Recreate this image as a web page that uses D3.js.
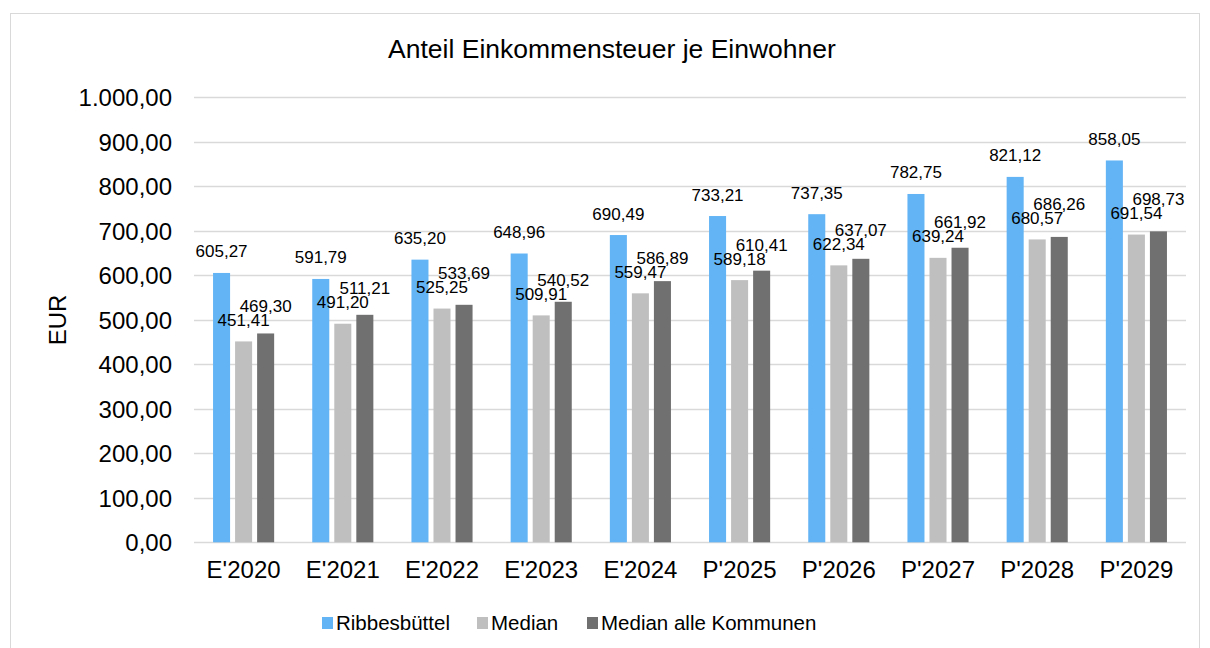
<!DOCTYPE html>
<html>
<head>
<meta charset="utf-8">
<script src="https://cdn.jsdelivr.net/npm/d3@7"></script>
<style>
  body { margin: 0; background: #fff; }
  text { font-family: "Liberation Sans", Arial, sans-serif; fill: #000; }
</style>
</head>
<body>
<div id="chart"></div>
<script>
// ---- data ----
const categories = ["E'2020", "E'2021", "E'2022", "E'2023", "E'2024", "P'2025", "P'2026", "P'2027", "P'2028", "P'2029"];
const seriesNames = ["Ribbesbüttel", "Median", "Median alle Kommunen"];
const ribbesbuettel = [605.27, 591.79, 635.20, 648.96, 690.49, 733.21, 737.35, 782.75, 821.12, 858.05];
const median = [451.41, 491.20, 525.25, 509.91, 559.47, 589.18, 622.34, 639.24, 680.57, 691.54];
const medianAlle = [469.30, 511.21, 533.69, 540.52, 586.89, 610.41, 637.07, 661.92, 686.26, 698.73];
const yTicks = [0, 100, 200, 300, 400, 500, 600, 700, 800, 900, 1000];

const seriesValues = [ribbesbuettel, median, medianAlle];
const colors = ["#63b4f5", "#bfbfbf", "#707070"];

const width = 1210, height = 648;
const plot = { left: 194, right: 1186, top: 97.3, bottom: 542.3 };

// german number format 1.000,00
const de = d3.formatLocale({ decimal: ",", thousands: ".", grouping: [3], currency: ["", " €"] });
const fmt = de.format(",.2f");

const svg = d3.select("#chart").append("svg")
  .attr("width", width)
  .attr("height", height);

// outer chart border
svg.append("rect")
  .attr("x", 10.5).attr("y", 13.5)
  .attr("width", 1189).attr("height", 660)
  .attr("fill", "none")
  .attr("stroke", "#d9d9d9")
  .attr("stroke-width", 1);

// title
svg.append("text")
  .attr("x", 612).attr("y", 58)
  .attr("text-anchor", "middle")
  .style("font-size", "26.5px")
  .text("Anteil Einkommensteuer je Einwohner");

// scales
const y = d3.scaleLinear().domain([0, 1000]).range([plot.bottom, plot.top]);
const x0 = d3.scaleBand().domain(categories).range([plot.left, plot.right]).padding(0);
const gw = x0.bandwidth();
const x1 = d3.scaleBand().domain(seriesNames)
  .range([gw * 0.192, gw * 0.808])
  .paddingInner(0.227).paddingOuter(0);

// gridlines
svg.append("g")
  .selectAll("line")
  .data(yTicks)
  .join("line")
  .attr("x1", plot.left).attr("x2", plot.right)
  .attr("y1", d => Math.round(y(d)) + 0.5)
  .attr("y2", d => Math.round(y(d)) + 0.5)
  .attr("stroke", "#d9d9d9")
  .attr("stroke-width", 1.3);

// y axis labels
const yAxis = svg.append("g")
  .attr("transform", "translate(172,0)")
  .call(d3.axisLeft(y).tickValues(yTicks).tickFormat(fmt).tickSize(0).tickPadding(0));
yAxis.select(".domain").remove();
yAxis.selectAll("text")
  .style("font-size", "24px")
  .attr("dy", "0.35em")
  .attr("fill", "#000");

// y axis title
svg.append("text")
  .attr("transform", "translate(66,320) rotate(-90)")
  .attr("text-anchor", "middle")
  .style("font-size", "24px")
  .text("EUR");

// x axis labels
const xAxis = svg.append("g")
  .attr("transform", "translate(0," + plot.bottom + ")")
  .call(d3.axisBottom(x0).tickSize(0).tickPadding(0));
xAxis.select(".domain").remove();
xAxis.selectAll("text")
  .attr("y", 36)
  .attr("dy", 0)
  .style("font-size", "24px")
  .attr("fill", "#000");

// bars
const groups = svg.append("g")
  .selectAll("g")
  .data(categories)
  .join("g")
  .attr("transform", d => "translate(" + x0(d) + ",0)");

groups.selectAll("rect")
  .data((c, i) => seriesNames.map((s, k) => ({ series: s, k: k, value: seriesValues[k][i] })))
  .join("rect")
  .attr("x", d => x1(d.series))
  .attr("y", d => y(d.value))
  .attr("width", x1.bandwidth())
  .attr("height", d => y(0) - y(d.value))
  .attr("fill", d => colors[d.k]);

// value labels 15.5px above the bar; the third one is lifted if it sits on the median label
groups.each(function(c, i) {
  const medY = y(median[i]) - 15.5;
  d3.select(this).selectAll("text.lbl")
    .data(seriesNames.map((s, k) => ({ series: s, k: k, value: seriesValues[k][i] })))
    .join("text")
    .attr("class", "lbl")
    .attr("x", d => x1(d.series) + x1.bandwidth() / 2)
    .attr("y", d => {
      let ly = y(d.value) - 15.5;
      if (d.k === 2 && medY - ly < 14) ly = medY - 14;
      return ly;
    })
    .attr("text-anchor", "middle")
    .style("font-size", "17px")
    .text(d => fmt(d.value));
});

// legend
const legendX = [322, 477, 587];
const legend = svg.append("g")
  .selectAll("g")
  .data(seriesNames)
  .join("g")
  .attr("transform", (d, i) => "translate(" + legendX[i] + ",617)");

legend.append("rect")
  .attr("width", 11).attr("height", 12)
  .attr("fill", (d, i) => colors[i]);

legend.append("text")
  .attr("x", 14).attr("y", 13)
  .style("font-size", "20.5px")
  .text(d => d);
</script>
</body>
</html>
